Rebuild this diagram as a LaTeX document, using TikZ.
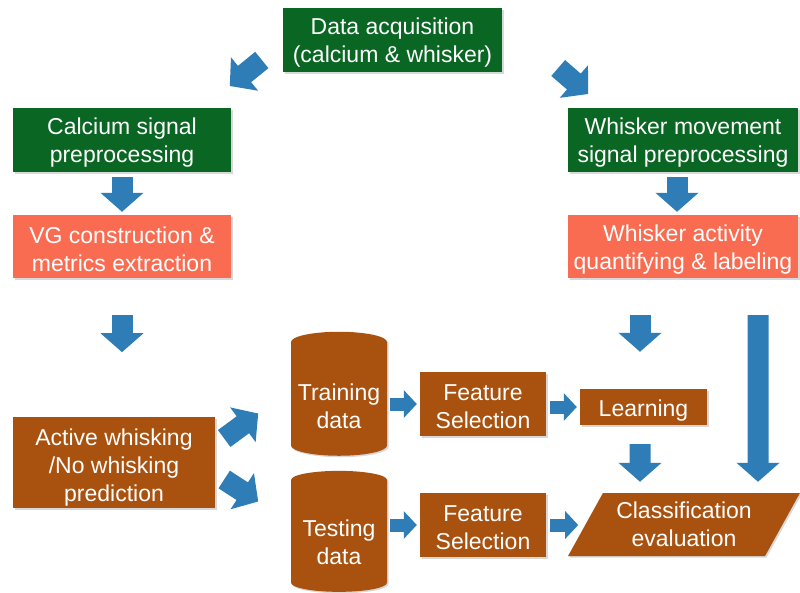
\documentclass[tikz,border=0pt]{standalone}
\usepackage{fontspec}
\setmainfont{Liberation Sans}
\usetikzlibrary{shapes.geometric,arrows.meta,shadows}
\definecolor{boxgreen}{RGB}{10,102,35}
\definecolor{boxsalmon}{RGB}{250,108,82}
\definecolor{boxbrown}{RGB}{169,82,16}
\definecolor{arrowblue}{RGB}{46,125,182}
\newcommand{\toppad}[1]{\rule{0pt}{#1pt}}
\tikzset{
  box/.style={rectangle, text=white, align=center, inner sep=0pt,
    font=\fontsize{23}{28}\selectfont,
    drop shadow={shadow xshift=1.5pt, shadow yshift=-1.5pt, opacity=0.3}},
  greenbox/.style={box, fill=boxgreen},
  salmonbox/.style={box, fill=boxsalmon},
  brownbox/.style={box, fill=boxbrown},
  datacyl/.style={brownbox, cylinder, shape border rotate=90, aspect=0.25,
    minimum width=96pt},
  slantbox/.style={brownbox, trapezium, trapezium left angle=57,
    trapezium right angle=123, trapezium stretches=true},
  bigarrow/.style={arrowblue, line width=21pt, -{Triangle[width=42pt,length=19pt]}},
  smallarrow/.style={arrowblue, line width=13pt, -{Triangle[width=27pt,length=13pt]}},
}

\begin{document}
\begin{tikzpicture}[x=1pt, y=-1pt]
    \path[fill=white, use as bounding box] (0,0) rectangle (800,592);

    % top row
    \node[greenbox, minimum width=219pt, minimum height=64pt] (acq) at (392.5,40) {\toppad{22}Data acquisition\\(calcium \& whisker)};
    \node[greenbox, minimum width=218pt, minimum height=64pt] (calc) at (122,140) {\toppad{22}Calcium signal\\preprocessing};
    \node[greenbox, minimum width=230pt, minimum height=64pt] (whisk) at (683,140) {\toppad{22}Whisker movement\\signal preprocessing};
    \node[salmonbox, minimum width=218pt, minimum height=63pt] (vg) at (122,246.5) {\toppad{22}VG construction \&\\metrics extraction};
    \node[salmonbox, minimum width=230pt, minimum height=63pt] (wact) at (683,246.5) {\toppad{22}Whisker activity\\quantifying \& labeling};

    % lower part
    \node[brownbox, minimum width=202pt, minimum height=91pt] (active) at (114,462.5) {\toppad{26}Active whisking\\/No whisking\\prediction};
    \node[datacyl, minimum height=124pt] (train) at (339,399) {\toppad{31}Training\\data};
    \node[datacyl, minimum height=121pt] (test) at (339,536) {\toppad{30}Testing\\data};
    \node[brownbox, minimum width=126pt, minimum height=64pt] (fs1) at (483,404) {\toppad{21}Feature\\Selection};
    \node[brownbox, minimum width=126pt, minimum height=64pt] (fs2) at (483,525) {\toppad{21}Feature\\Selection};
    \node[brownbox, minimum width=127pt, minimum height=36pt] (learn) at (643.5,407) {\toppad{24}Learning};
    \node[slantbox, minimum width=232pt, minimum height=63pt] (classif) at (684,524.5) {Classification\\evaluation};

    % block arrows
    \draw[bigarrow] ([shift={(-21,20)}]acq.west) -- ++(-32,26);
    \draw[bigarrow] ([shift={(56,28)}]acq.east) -- ++(30,26);
    \draw[bigarrow] ([shift={(0,5)}]calc.south) -- ([shift={(0,-3)}]vg.north);
    \draw[bigarrow] ([shift={(-6,5)}]whisk.south) -- ([shift={(-6,-3)}]wact.north);
    \draw[bigarrow] ([shift={(0,37)}]vg.south) -- ++(0,37);
    \draw[bigarrow] ([shift={(-3.5,-74)}]learn.north) -- ([shift={(-3.5,-37)}]learn.north);
    \draw[bigarrow] ([shift={(75,37)}]wact.south) -- ([shift={(74,-11)}]classif.north);
    \draw[bigarrow] ([shift={(-3.5,19)}]learn.south) -- ([shift={(-44,-11)}]classif.north);
    \draw[bigarrow] ([shift={(9,-24)}]active.east) -- ++(34,-25);
    \draw[bigarrow] ([shift={(9,17)}]active.east) -- ++(34,22);
    \draw[smallarrow] ([xshift=3]train.east |- fs1.west) -- ([xshift=-3]fs1.west);
    \draw[smallarrow] ([xshift=3]test.east |- fs2.west) -- ([xshift=-3]fs2.west);
    \draw[smallarrow] ([xshift=4]fs1.east |- learn.west) -- ([xshift=-3]learn.west);
    \draw[smallarrow] ([xshift=4]fs2.east) -- ++(28,0);
\end{tikzpicture}
\end{document}
